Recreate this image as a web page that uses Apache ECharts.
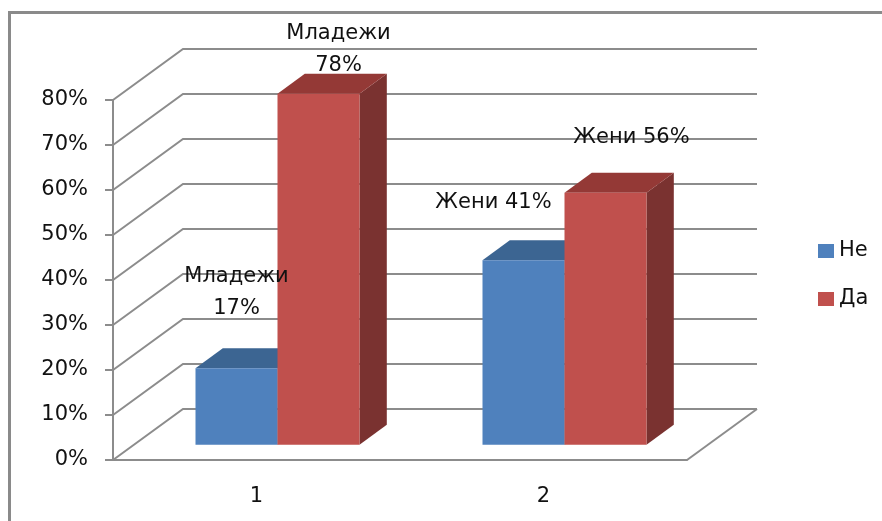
<!DOCTYPE html>
<html><head><meta charset="utf-8">
<script src="https://cdn.jsdelivr.net/npm/echarts@6/dist/echarts.min.js"></script>
<style>html,body{margin:0;padding:0;background:#fff}#c{width:882px;height:521px}</style>
</head><body><div id="c"></div>
<script>
// ---- data ----
const categories = ['1', '2'];
const seriesNames = ['Не', 'Да'];
const valuesNe = [0.17, 0.41];
const valuesDa = [0.78, 0.56];
const labelNamesNe = ['Младежи', 'Жени'];
const labelNamesDa = ['Младежи', 'Жени'];
const yTicks = [0, 0.1, 0.2, 0.3, 0.4, 0.5, 0.6, 0.7, 0.8];

// ---- geometry / style (not data) ----
const DX = 70, DY = -51;       // depth of the 3D box
const F0 = 0.3, F1 = 0.69;     // bar front/back depth fractions
const BAR_W = 82;
const FONT = 'DejaVu Sans';
const GRID_C = '#8c8c8c';
const colors = {
  Ne: { front: '#4F81BD', top: '#3C6592', side: '#385D8A' },
  Da: { front: '#C0504D', top: '#943936', side: '#7A3230' }
};
const labelSep = [['\n', ' '], ['\n', ' ']];
const labelOffsets = [[[0, -76], [-30, -58]], [[20, -44], [26, -55]]];

function pct(v) { return Math.round(v * 100) + '%'; }

const chart = echarts.init(document.getElementById('c'));

function wallRender(params, api) {
  const cs = params.coordSys;
  const v = api.value(1);
  const y = api.coord([0, v])[1];
  const x0 = cs.x, x1 = cs.x + cs.width;
  const ls = { stroke: GRID_C, lineWidth: 2, fill: null };
  const children = [
    { type: 'polyline', shape: { points: [[x0, y], [x0 + DX, y + DY], [x1 + DX, y + DY]] }, style: ls }
  ];
  if (v === 0) {
    children.push({ type: 'line', shape: { x1: x1, y1: y, x2: x1 + DX, y2: y + DY }, style: ls });
  }
  return { type: 'group', children: children };
}

function barRender(si, c) {
  return function (params, api) {
    const i = api.value(0);
    const v = api.value(1);
    const top = api.coord([i, v]);
    const base = api.coord([i, 0]);
    const xl = top[0] + (si - 1) * BAR_W;
    const xr = xl + BAR_W;
    const yT = top[1], yB = base[1];
    const ax = F0 * DX, ay = F0 * DY, bx = F1 * DX, by = F1 * DY;
    const lab = (si === 0 ? labelNamesNe : labelNamesDa)[i] + labelSep[si][i] + pct(v);
    const off = labelOffsets[si][i];
    return {
      type: 'group',
      children: [
        { type: 'polygon', shape: { points: [[xr + ax, yT + ay], [xr + bx, yT + by], [xr + bx, yB + by], [xr + ax, yB + ay]] }, style: { fill: c.side } },
        { type: 'polygon', shape: { points: [[xl + ax, yT + ay], [xl + bx, yT + by], [xr + bx, yT + by], [xr + ax, yT + ay]] }, style: { fill: c.top } },
        { type: 'rect', shape: { x: xl + ax, y: yT + ay, width: BAR_W, height: yB - yT }, style: { fill: c.front } },
        { type: 'text', z2: 100, x: (xl + xr) / 2 + ax + off[0], y: yT + ay + off[1],
          style: { text: lab, fill: '#111', font: '21px ' + FONT, align: 'center', verticalAlign: 'middle', lineHeight: 32 } }
      ]
    };
  };
}

chart.setOption({
  animation: false,
  backgroundColor: '#fff',
  graphic: [
    { type: 'polyline', shape: { points: [[9.5, 521], [9.5, 12.5], [882, 12.5]] }, style: { stroke: '#8a8a8a', lineWidth: 3, fill: null }, silent: true }
  ],
  grid: { left: 113, right: 195, top: 100, bottom: 61 },
  xAxis: {
    type: 'category', data: categories,
    axisLine: { lineStyle: { color: GRID_C, width: 2 } },
    axisTick: { length: 9, lineStyle: { color: GRID_C, width: 2 } },
    axisLabel: { margin: 26, color: '#111', fontFamily: FONT, fontSize: 21 }
  },
  yAxis: {
    type: 'value', min: 0, max: 0.8, interval: 0.1,
    axisLine: { show: true, lineStyle: { color: GRID_C, width: 2 } },
    axisTick: { show: true, length: 8, lineStyle: { color: GRID_C, width: 2 } },
    splitLine: { show: false },
    axisLabel: { margin: 25, color: '#111', fontFamily: FONT, fontSize: 21, padding: [8, 0, 0, 0], formatter: function (v) { return pct(v); } }
  },
  legend: {
    data: seriesNames, orient: 'vertical', left: 818, top: 239, icon: 'rect', padding: 0,
    itemWidth: 16, itemHeight: 14, itemGap: 24,
    textStyle: { fontFamily: FONT, fontSize: 21, color: '#111', lineHeight: 24 }
  },
  series: [
    { type: 'custom', name: 'walls', silent: true, renderItem: wallRender,
      data: yTicks.map(function (t) { return [0, t]; }), encode: { x: 0, y: 1 }, clip: false },
    { type: 'custom', name: seriesNames[0], renderItem: barRender(0, colors.Ne), itemStyle: { color: colors.Ne.front },
      data: valuesNe.map(function (v, i) { return [i, v]; }), encode: { x: 0, y: 1 }, clip: false },
    { type: 'custom', name: seriesNames[1], renderItem: barRender(1, colors.Da), itemStyle: { color: colors.Da.front },
      data: valuesDa.map(function (v, i) { return [i, v]; }), encode: { x: 0, y: 1 }, clip: false }
  ]
});
</script>
</body></html>
